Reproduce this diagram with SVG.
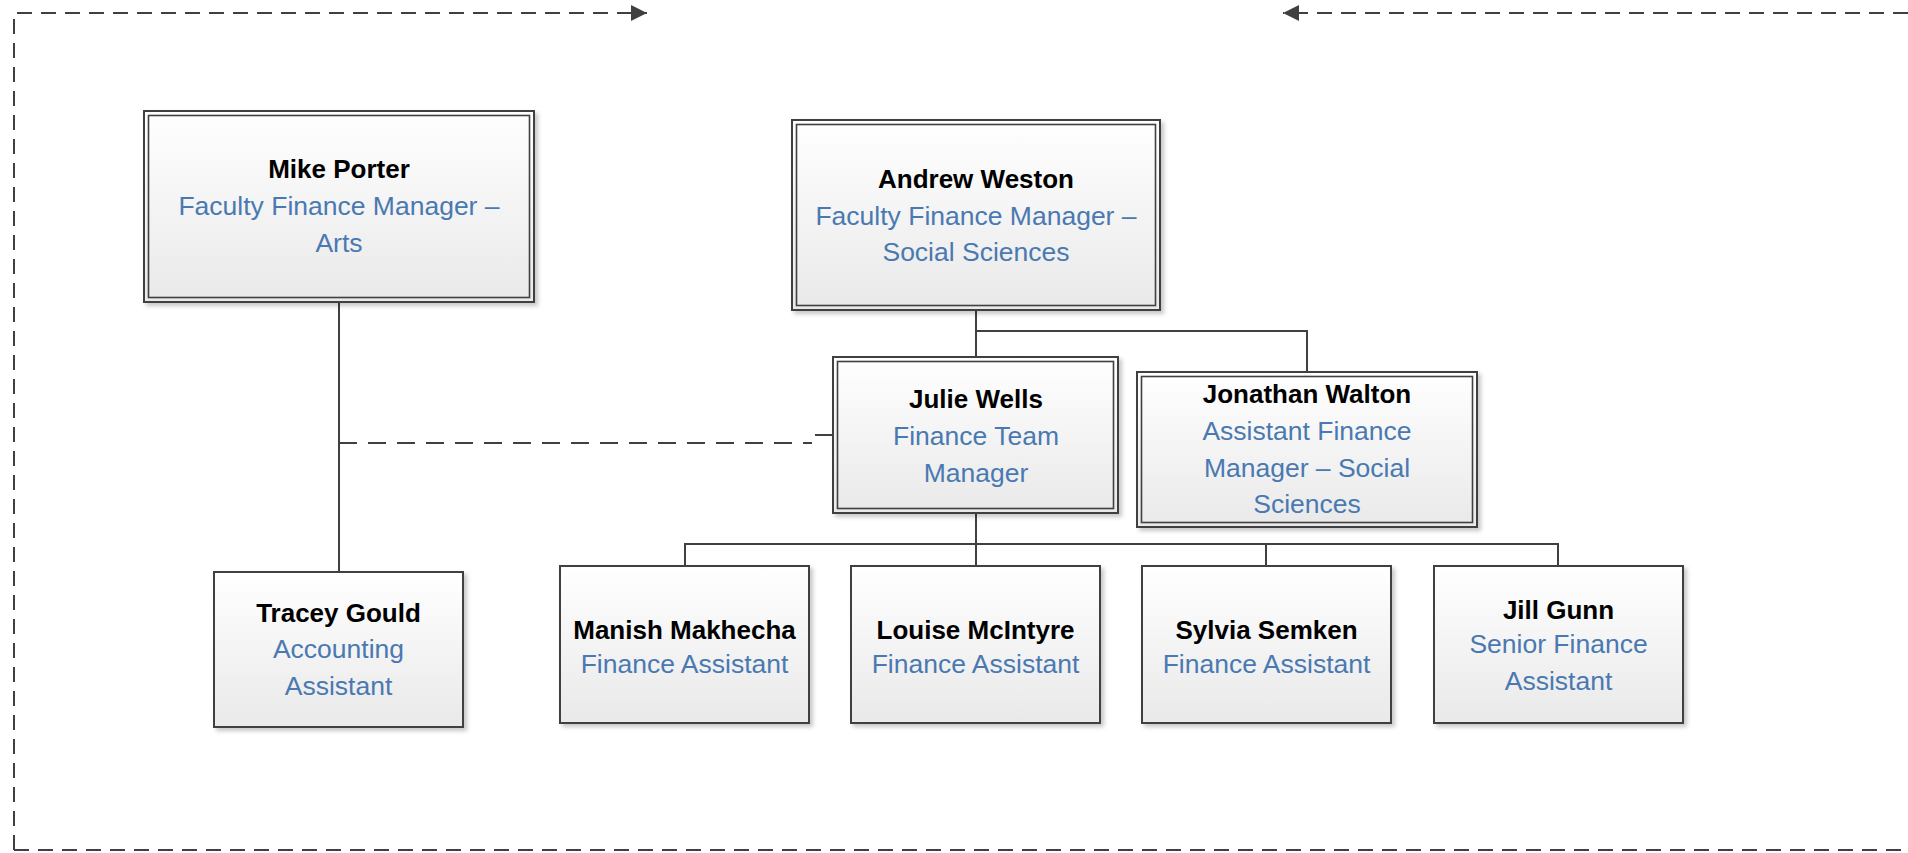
<svg xmlns="http://www.w3.org/2000/svg" width="1908" height="853" viewBox="0 0 1908 853">
<style>
.box{fill:url(#g);stroke:#404040;stroke-width:2;filter:url(#sh)}
.inner{fill:none;stroke:#404040;stroke-width:1.6}
.name{font-family:"Liberation Sans",Arial,sans-serif;font-weight:bold;font-size:26px;fill:#000;text-anchor:middle}
.title{font-family:"Liberation Sans",Arial,sans-serif;font-size:26.5px;fill:#4a79b1;text-anchor:middle}
.conn{fill:none;stroke:#404040;stroke-width:2}
.dash{fill:none;stroke:#404040;stroke-width:2.2;stroke-dasharray:18 11}
.border{fill:none;stroke:#404040;stroke-width:2;stroke-dasharray:15 9}
</style>
<defs>
<linearGradient id="g" x1="0" y1="0" x2="0" y2="1">
<stop offset="0" stop-color="#ffffff"/>
<stop offset="1" stop-color="#e9e9e9"/>
</linearGradient>
<filter id="sh" x="-5%" y="-5%" width="115%" height="115%">
<feDropShadow dx="3" dy="3" stdDeviation="2" flood-color="#000" flood-opacity="0.22"/>
</filter>
<marker id="arr" viewBox="0 0 10 10" refX="10" refY="5" markerWidth="8" markerHeight="8" orient="auto" markerUnits="strokeWidth">
<path d="M0,0 L10,5 L0,10 Z" fill="#404040"/>
</marker>
</defs>
<rect width="1908" height="853" fill="#fff"/>
<g id="connectors">
<path class="border" d="M14,850 V13 H647" marker-end="url(#arr)"/>
<path class="border" d="M1908,13 H1283" marker-end="url(#arr)"/>
<path class="border" d="M14,850 H1908"/>
<path class="conn" d="M339,302 V572"/>
<path class="dash" d="M339,443 H812"/>
<path class="conn" d="M815,435 H833"/>
<path class="conn" d="M976,310 V357"/>
<path class="conn" d="M976,331 H1307 V372"/>
<path class="conn" d="M976,513 V566"/>
<path class="conn" d="M685,566 V544 H1558 V566"/>
<path class="conn" d="M1266,544 V566"/>
</g>
<g id="mike-porter">
<rect class="box" x="144" y="111" width="390" height="191"/>
<rect class="inner" x="148.5" y="115.5" width="381" height="182"/>
<text class="name" x="339" y="178">Mike Porter</text>
<text class="title" x="339" y="215">Faculty Finance Manager –</text>
<text class="title" x="339" y="252">Arts</text>
</g>
<g id="andrew-weston">
<rect class="box" x="792" y="120" width="368" height="190"/>
<rect class="inner" x="796.5" y="124.5" width="359" height="181"/>
<text class="name" x="976" y="188">Andrew Weston</text>
<text class="title" x="976" y="225">Faculty Finance Manager –</text>
<text class="title" x="976" y="261">Social Sciences</text>
</g>
<g id="julie-wells">
<rect class="box" x="833" y="357" width="285" height="156"/>
<rect class="inner" x="837.5" y="361.5" width="276" height="147"/>
<text class="name" x="976" y="408">Julie Wells</text>
<text class="title" x="976" y="445">Finance Team</text>
<text class="title" x="976" y="482">Manager</text>
</g>
<g id="jonathan-walton">
<rect class="box" x="1137" y="372" width="340" height="155"/>
<rect class="inner" x="1141.5" y="376.5" width="331" height="146"/>
<text class="name" x="1307" y="403">Jonathan Walton</text>
<text class="title" x="1307" y="440">Assistant Finance</text>
<text class="title" x="1307" y="477">Manager – Social</text>
<text class="title" x="1307" y="513">Sciences</text>
</g>
<g id="tracey-gould">
<rect class="box" x="214" y="572" width="249" height="155"/>
<text class="name" x="338.5" y="622">Tracey Gould</text>
<text class="title" x="338.5" y="658">Accounting</text>
<text class="title" x="338.5" y="695">Assistant</text>
</g>
<g id="manish-makhecha">
<rect class="box" x="560" y="566" width="249" height="157"/>
<text class="name" x="684.5" y="639">Manish Makhecha</text>
<text class="title" x="684.5" y="673">Finance Assistant</text>
</g>
<g id="louise-mcintyre">
<rect class="box" x="851" y="566" width="249" height="157"/>
<text class="name" x="975.5" y="639">Louise McIntyre</text>
<text class="title" x="975.5" y="673">Finance Assistant</text>
</g>
<g id="sylvia-semken">
<rect class="box" x="1142" y="566" width="249" height="157"/>
<text class="name" x="1266.5" y="639">Sylvia Semken</text>
<text class="title" x="1266.5" y="673">Finance Assistant</text>
</g>
<g id="jill-gunn">
<rect class="box" x="1434" y="566" width="249" height="157"/>
<text class="name" x="1558.5" y="619">Jill Gunn</text>
<text class="title" x="1558.5" y="653">Senior Finance</text>
<text class="title" x="1558.5" y="690">Assistant</text>
</g>
</svg>
